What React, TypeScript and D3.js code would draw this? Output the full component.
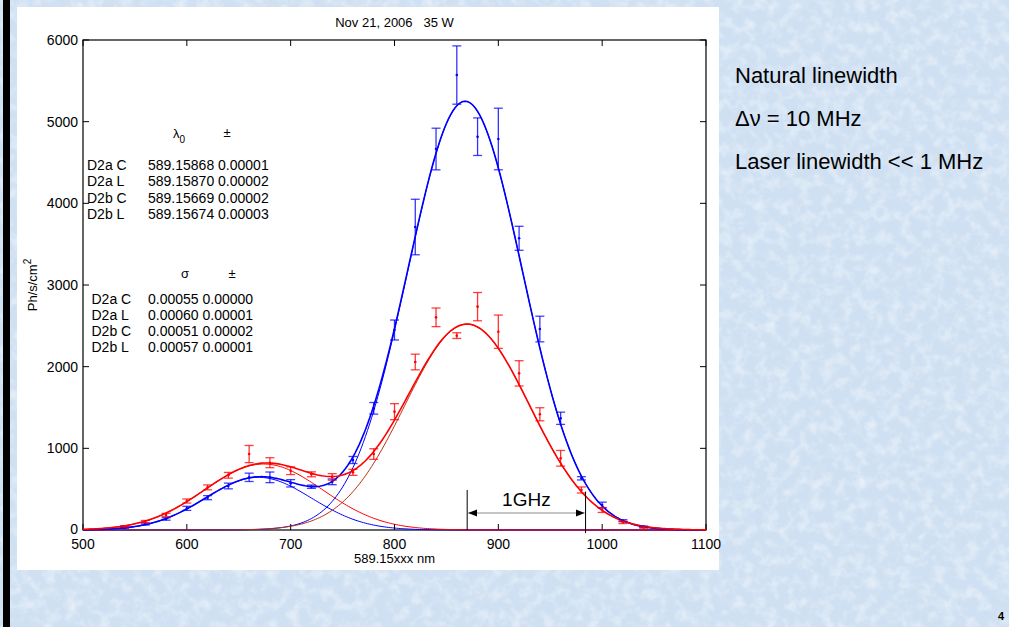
import React, { useEffect } from "react";
import * as d3 from "d3";

// ---------- data ----------
const titleText = "Nov 21, 2006   35 W";
const xTicks = [500, 600, 700, 800, 900, 1000, 1100];
const yTicks = [0, 1000, 2000, 3000, 4000, 5000, 6000];

const sampleX = [540, 560, 580, 600, 620, 640, 660, 680, 700, 720, 740, 760, 780, 800, 820, 840, 860, 880, 900, 920, 940, 960, 980, 1000, 1020, 1040];
const blueVals = [30, 73, 135, 265, 396, 539, 645, 645, 572, 530, 590, 857, 1490, 2449, 3710, 4665, 5571, 4816, 4788, 3572, 2461, 1368, 633, 306, 114, 40];
const blueErr = [8, 12, 15, 25, 25, 35, 51, 65, 45, 20, 35, 43, 71, 122, 340, 255, 357, 230, 377, 147, 157, 75, 20, 35, 12, 8];
const redVals = [45, 102, 184, 355, 522, 670, 930, 824, 726, 682, 650, 706, 930, 1449, 2057, 2604, 2380, 2735, 2428, 1918, 1417, 878, 490, 245, 94, 30];
const redErr = [8, 15, 20, 25, 30, 35, 105, 61, 47, 30, 40, 37, 65, 98, 96, 114, 35, 173, 204, 155, 80, 96, 37, 30, 15, 8];

// fit table (index: 0 D2a C, 1 D2a L, 2 D2b C, 3 D2b L)
const rowLabels = ["D2a C", "D2a L", "D2b C", "D2b L"];
const lambdaVals = ["589.15868", "589.15870", "589.15669", "589.15674"];
const lambdaErrs = ["0.00001", "0.00002", "0.00002", "0.00003"];
const sigmaVals = ["0.00055", "0.00060", "0.00051", "0.00057"];
const sigmaErrs = ["0.00000", "0.00001", "0.00002", "0.00001"];
const fitAmps = [5250, 2520, 645, 808];

const sideLines = ["Natural linewidth", "\u0394\u03bd = 10 MHz", "Laser linewidth << 1 MHz"];
const gapX = [870, 984];
const gapLabel = "1GHz";

// ---------- layout ----------
const W = 1009, H = 627;
const PL = 83, PR = 706, PT = 40, PB = 530;
const FONT = "'Liberation Sans', Arial, Helvetica, sans-serif";

const x = d3.scaleLinear().domain([500, 1100]).range([PL, PR]);
const y = d3.scaleLinear().domain([0, 6000]).range([PB, PT]);

const centers = lambdaVals.map((v) => Math.round((parseFloat(v) - 589.15) * 1e5));
const sigmas = sigmaVals.map((v) => parseFloat(v) * 1e5);
const gauss = (i: number, v: number) => fitAmps[i] * Math.exp(-((v - centers[i]) ** 2) / (2 * sigmas[i] ** 2));
const grid = d3.range(500, 1100.001, 2);
const line = d3.line<[number, number]>().x((d) => x(d[0])).y((d) => y(d[1]));
const comp = (i: number) => line(grid.map((v) => [v, gauss(i, v)] as [number, number])) || "";
const sum = (a: number, b: number) => line(grid.map((v) => [v, gauss(a, v) + gauss(b, v)] as [number, number])) || "";

function ErrorBars({ vals, errs, color }: { vals: number[]; errs: number[]; color: string }) {
  return (
    <g stroke={color} fill={color}>
      {sampleX.map((sx, i) => {
        const cx = x(sx);
        const y1 = y(vals[i] + errs[i]);
        const y2 = y(vals[i] - errs[i]);
        return (
          <g key={i}>
            <line x1={cx} x2={cx} y1={y1} y2={y2} strokeWidth={1.3} strokeOpacity={0.8} />
            <line x1={cx - 4.5} x2={cx + 4.5} y1={y1} y2={y1} strokeWidth={1.3} strokeOpacity={0.75} />
            <line x1={cx - 4.5} x2={cx + 4.5} y1={y2} y2={y2} strokeWidth={1.3} strokeOpacity={0.75} />
            <circle cx={cx} cy={y(vals[i])} r={1.3} stroke="none" />
          </g>
        );
      })}
    </g>
  );
}

export default function App() {
  useEffect(() => {
    document.body.style.margin = "0";
    document.body.style.overflow = "hidden";
  }, []);
  return (
    <svg width={W} height={H} style={{ position: "absolute", left: 0, top: 0 }} fontFamily={FONT}>
      <defs>
        <filter id="tex" x="0" y="0" width="100%" height="100%">
          <feTurbulence type="fractalNoise" baseFrequency="0.09" numOctaves="3" seed="7" />
          <feColorMatrix type="matrix" values="0 0 0 0 1  0 0 0 0 1  0 0 0 0 1  1.8 0 0 0 -0.75" />
        </filter>
        <marker id="ah" viewBox="0 0 10 10" refX="10" refY="5" markerWidth="9" markerHeight="9" orient="auto-start-reverse" markerUnits="userSpaceOnUse">
          <path d="M0,1 L10,5 L0,9 Z" fill="#000" />
        </marker>
      </defs>
      {/* background */}
      <rect x={0} y={0} width={W} height={H} fill="#cfe0f2" />
      <rect x={0} y={0} width={W} height={H} filter="url(#tex)" opacity={0.55} />
      <rect x={3} y={0} width={7} height={H} fill="#000" />
      {/* white panel */}
      <rect x={17} y={7} width={702} height={563} fill="#fff" />

      {/* title */}
      <text x={(PL + PR) / 2} y={27} fontSize={13} textAnchor="middle" fill="#000" style={{ whiteSpace: "pre" }}>
        {titleText}
      </text>

      {/* axes box */}
      <rect x={PL} y={PT} width={PR - PL} height={PB - PT} fill="none" stroke="#000" strokeWidth={1.2} />
      {xTicks.map((t) => (
        <g key={"x" + t}>
          <line x1={x(t)} x2={x(t)} y1={PB} y2={PB - 6} stroke="#000" />
          <line x1={x(t)} x2={x(t)} y1={PT} y2={PT + 6} stroke="#000" />
          <text x={x(t)} y={549} fontSize={14} textAnchor="middle">{t}</text>
        </g>
      ))}
      {yTicks.map((t) => (
        <g key={"y" + t}>
          <line x1={PL} x2={PL + 6} y1={y(t)} y2={y(t)} stroke="#000" />
          <line x1={PR} x2={PR - 6} y1={y(t)} y2={y(t)} stroke="#000" />
          <text x={78} y={y(t) + (t === 0 ? 3.5 : 5)} fontSize={14} textAnchor="end">{t}</text>
        </g>
      ))}
      <text x={394.5} y={563} fontSize={13} textAnchor="middle">589.15xxx nm</text>
      <text transform={`translate(37,${(PT + PB) / 2}) rotate(-90)`} fontSize={13} textAnchor="middle">
        Ph/s/cm<tspan dy={-6} fontSize={10}>2</tspan>
      </text>

      {/* fit table */}
      <text x={173} y={138} fontSize={13}>
        λ<tspan dy={5} fontSize={10}>0</tspan>
      </text>
      <text x={227} y={137} fontSize={13} textAnchor="middle">±</text>
      {rowLabels.map((r, i) => (
        <g key={"l" + i} fontSize={14}>
          <text x={87} y={170 + i * 16.3}>{r}</text>
          <text x={148} y={170 + i * 16.3}>{lambdaVals[i] + " " + lambdaErrs[i]}</text>
        </g>
      ))}
      <text x={185} y={278} fontSize={13} textAnchor="middle">σ</text>
      <text x={232} y={278} fontSize={13} textAnchor="middle">±</text>
      {rowLabels.map((r, i) => (
        <g key={"s" + i} fontSize={14}>
          <text x={91.5} y={304 + i * 15.9}>{r}</text>
          <text x={148} y={304 + i * 15.9}>{sigmaVals[i] + " " + sigmaErrs[i]}</text>
        </g>
      ))}

      {/* component fits */}
      <g fill="none" strokeWidth={1}>
        <path d={comp(2)} stroke="#0000ff" />
        <path d={comp(3)} stroke="#ff0000" />
        <path d={comp(0)} stroke="#0000ff" />
        <path d={comp(1)} stroke="#b8300f" />
      </g>
      {/* sum fits */}
      <g fill="none" strokeWidth={1.6}>
        <path d={sum(0, 2)} stroke="#0000ff" />
        <path d={sum(1, 3)} stroke="#ff0000" />
      </g>

      <ErrorBars vals={blueVals} errs={blueErr} color="#0000ff" />
      <ErrorBars vals={redVals} errs={redErr} color="#ff0000" />

      {/* 1 GHz annotation */}
      <line x1={x(gapX[0])} x2={x(gapX[0])} y1={y(490)} y2={PB} stroke="#000" strokeWidth={1} />
      <line x1={x(gapX[1])} x2={x(gapX[1])} y1={y(470)} y2={PB + 3} stroke="#000" strokeWidth={1} />
      <line x1={x(gapX[0]) + 1} x2={x(gapX[1]) - 1} y1={513} y2={513} stroke="#888" strokeWidth={1}
        markerStart="url(#ah)" markerEnd="url(#ah)" />
      <text x={(x(gapX[0]) + x(gapX[1])) / 2} y={506} fontSize={19} textAnchor="middle">{gapLabel}</text>

      {/* side notes */}
      {sideLines.map((s, i) => (
        <text key={s} x={735} y={83 + i * 43} fontSize={22} fill="#000">{s}</text>
      ))}
      <text x={1001} y={620} fontSize={11} fontWeight="bold" textAnchor="middle">4</text>
    </svg>
  );
}
